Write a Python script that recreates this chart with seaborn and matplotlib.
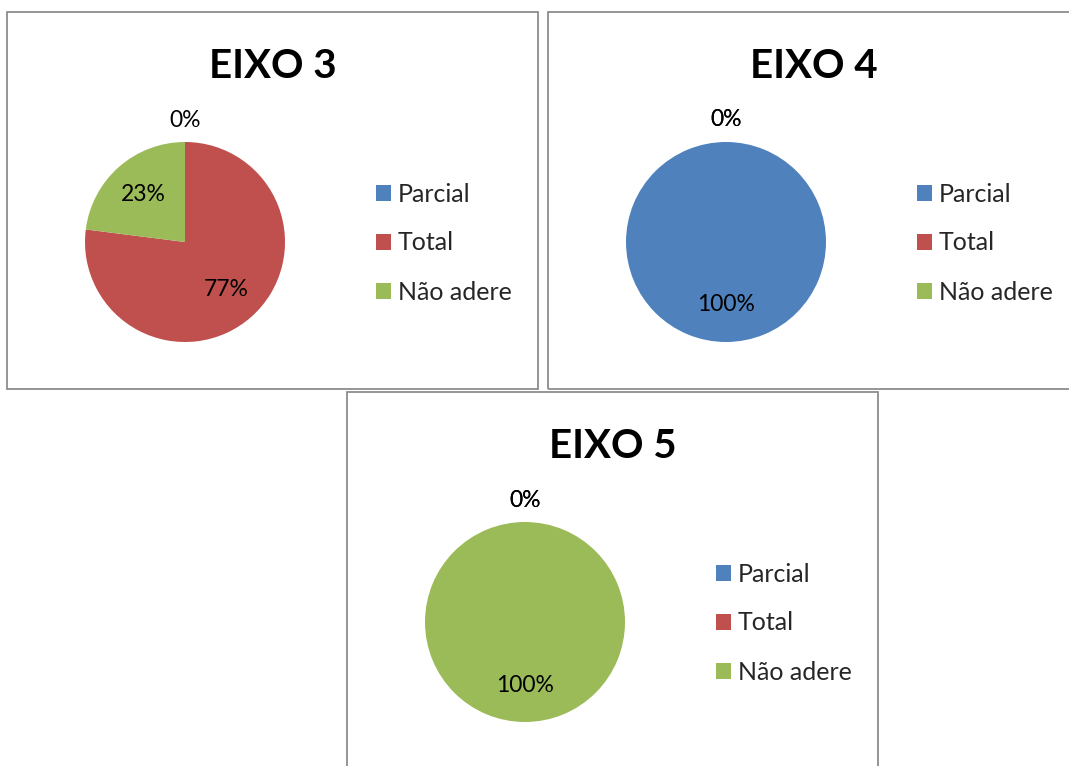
import matplotlib
matplotlib.use("Agg")
import matplotlib.pyplot as plt
from matplotlib.patches import Rectangle, Patch
import seaborn as sns

# data
categories = ["Parcial", "Total", "Não adere"]
titles = ["EIXO 3", "EIXO 4", "EIXO 5"]
eixo3 = [0, 77, 23]
eixo4 = [100, 0, 0]
eixo5 = [0, 0, 100]
series = [eixo3, eixo4, eixo5]

sns.set_style("white")
plt.rcParams["font.family"] = ["Lato", "DejaVu Sans"]

colors = ["#4F81BD", "#C0504D", "#9BBB59"]

W, H = 1069, 766
PW, PH = 531, 377
# top-left corner and drawn width of each chart box, pixels
# (the right box runs past the edge of the page, as in the original)
panels = [(7, 12, 531), (548, 12, 560), (347, 392, 531)]

fig = plt.figure(figsize=(W / 100, H / 100), dpi=100)


def fx(x):
    return x / W


def fy(y):
    return 1 - y / H


for (px, py, bw), title, vals in zip(panels, titles, series):
    # chart box
    fig.patches.append(Rectangle((fx(px), fy(py + PH)), bw / W, PH / H,
                                 transform=fig.transFigure, fill=False,
                                 ec="#8c8c8c", lw=1.3))
    fig.text(fx(px + PW / 2), fy(py + 55), title, ha="center", va="center",
             fontsize=29, fontweight="bold", color="black")

    cx, cy, r = px + 178, py + 230, 100
    ax = fig.add_axes([fx(cx - r), fy(cy + r), 2 * r / W, 2 * r / H])
    wedges, texts, autotexts = ax.pie(vals, colors=colors, startangle=90,
                                      counterclock=False, autopct="%1.0f%%",
                                      pctdistance=0.63, radius=1,
                                      wedgeprops=dict(linewidth=0),
                                      textprops=dict(fontsize=16.5, color="black"))
    # zero slices get their label outside the pie, above it
    for v, t in zip(vals, autotexts):
        if v == 0:
            x, y = t.get_position()
            t.set_position((x * 1.22 / 0.63, y * 1.22 / 0.63))
    ax.set_xlim(-1, 1)
    ax.set_ylim(-1, 1)
    ax.set_aspect("equal")
    ax.axis("off")

    handles = [Patch(facecolor=c, edgecolor="none") for c in colors]
    ax.legend(handles, categories, loc="center left",
              bbox_to_anchor=(fx(px + 369), fy(py + 231)),
              bbox_transform=fig.transFigure, frameon=False,
              fontsize=18, handlelength=0.6, handleheight=0.6,
              handletextpad=0.28, labelspacing=1.04,
              borderpad=0, borderaxespad=0)

fig.savefig("out.png", dpi=100, facecolor="white")
